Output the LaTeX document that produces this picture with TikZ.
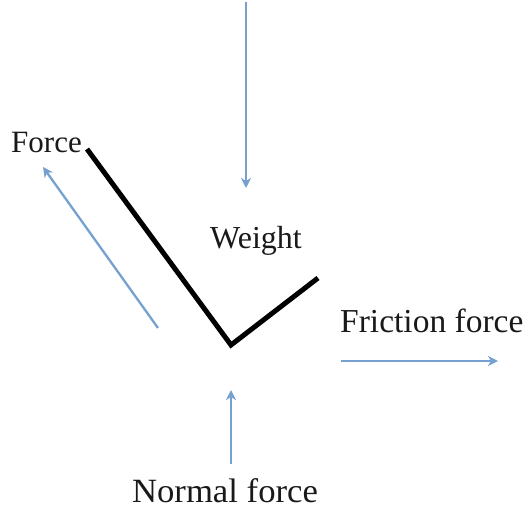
\documentclass[tikz,border=0pt]{standalone}
\usepackage{fontspec}
\setmainfont{Liberation Serif}
\usetikzlibrary{arrows.meta}
\definecolor{fblue}{RGB}{118,160,208}
\begin{document}
\begin{tikzpicture}[x=1pt,y=-1pt,
  force/.style={draw=fblue,line width=2.3pt,-{Stealth[length=10pt,width=10pt,inset=3pt]}},
  lbl/.style={inner sep=0pt,text=black!90},
  body/.style={draw=black,line width=5pt,line join=miter}]
\useasboundingbox (0,0) rectangle (529,511);
% labels
\node[lbl,font=\fontsize{31}{34}\selectfont,anchor=base west] (flab) at (11,152) {Force};
\node[lbl,font=\fontsize{32}{35}\selectfont,anchor=base] (wlab) at (256,248) {Weight};
\node[lbl,font=\fontsize{33.5}{36}\selectfont,anchor=base west] (frlab) at (340,332) {Friction force};
\node[lbl,font=\fontsize{34}{37}\selectfont,anchor=base,xscale=1.02] (nlab) at (225,502) {Normal force};
% body
\coordinate (b1) at (87,149);
\coordinate (b2) at (231,345);
\coordinate (b3) at (318,278);
\draw[body] (b1) -- (b2) -- (b3);
% arrows
\coordinate (w0) at (246,2);
\coordinate (w1) at (246,188);
\draw[force] (w0) -- (w1);
\coordinate (f0) at (158,328);
\coordinate (f1) at (43,167);
\draw[force] (f0) -- (f1);
\coordinate (r0) at (341,361);
\coordinate (r1) at (498,361);
\draw[force] (r0) -- (r1);
\coordinate (n0) at (231,464);
\coordinate (n1) at (231,390);
\draw[force] (n0) -- (n1);
\end{tikzpicture}
\end{document}
